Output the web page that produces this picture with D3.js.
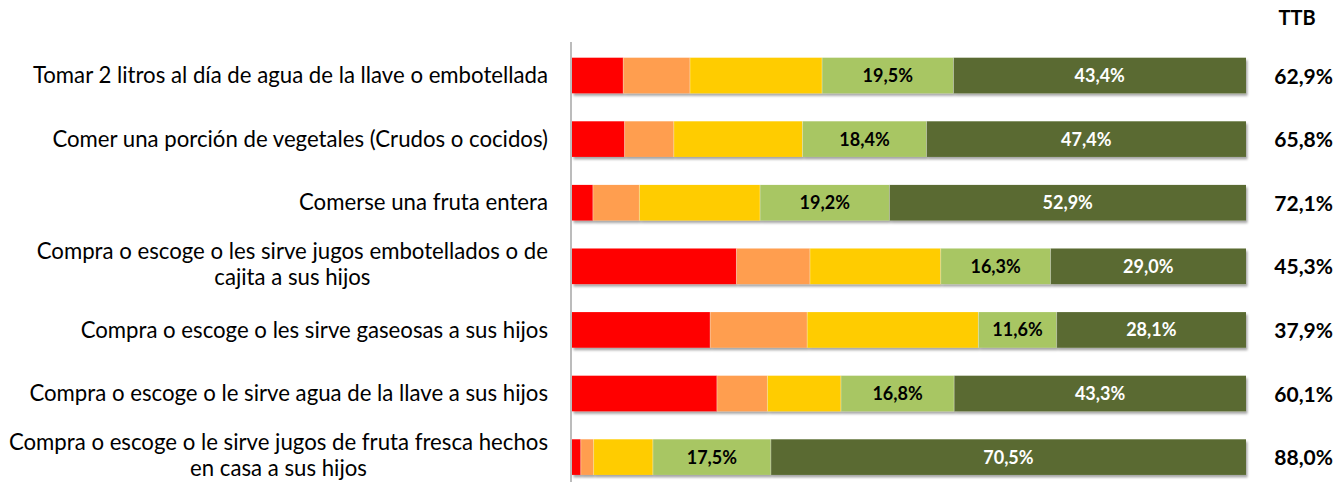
<!DOCTYPE html>
<html>
<head>
<meta charset="utf-8">
<script src="https://cdn.jsdelivr.net/npm/d3@7"></script>
<style>
  body { margin: 0; background: #fff; }
  svg { display: block; font-family: Lato, "Open Sans", sans-serif; }
</style>
</head>
<body>
<script>
// data (share of answers, %)
let categories = [
  "Tomar 2 litros al día de agua de la llave o embotellada",
  "Comer una porción de vegetales (Crudos o cocidos)",
  "Comerse una fruta entera",
  "Compra o escoge o les sirve jugos embotellados o de\ncajita a sus hijos",
  "Compra o escoge o les sirve gaseosas a sus hijos",
  "Compra o escoge o le sirve agua de la llave a sus hijos",
  "Compra o escoge o le sirve jugos de fruta fresca hechos\nen casa a sus hijos"
];
let red = [7.6, 7.8, 3.1, 24.4, 20.5, 21.5, 1.3],
  orange = [9.9, 7.3, 6.9, 10.9, 14.4, 7.5, 1.9],
  yellow = [19.6, 19.1, 17.9, 19.4, 25.4, 10.9, 8.8],
  lightGreen = [19.5, 18.4, 19.2, 16.3, 11.6, 16.8, 17.5],
  darkGreen = [43.4, 47.4, 52.9, 29.0, 28.1, 43.3, 70.5];
let ttb = [62.9, 65.8, 72.1, 45.3, 37.9, 60.1, 88.0];
let ttbTitle = "TTB";

let keys = ["red", "orange", "yellow", "lightGreen", "darkGreen"],
  colors = ["#FF0000", "#FF9E4F", "#FFCC00", "#A8C663", "#5A6B31"],
  labelled = { lightGreen: "#000", darkGreen: "#fff" };

let width = 1336,
  height = 482;

let rows = categories.map((c, i) => ({
  cat: c,
  red: red[i],
  orange: orange[i],
  yellow: yellow[i],
  lightGreen: lightGreen[i],
  darkGreen: darkGreen[i],
  ttb: ttb[i]
}));

let locale = d3.formatLocale({ decimal: ",", thousands: ".", grouping: [3], currency: ["", ""] });
let pct = (v) => locale.format(".1f")(v) + "%";

let x = d3.scaleLinear().domain([0, 100]).range([572, 1246]);
let y = d3
  .scaleBand()
  .domain(categories)
  .range([43.7, 488.9])
  .paddingInner(0.44)
  .paddingOuter(0.22);
let color = d3.scaleOrdinal().domain(keys).range(colors);

let svg = d3
  .select("body")
  .append("svg")
  .attr("width", width)
  .attr("height", height);

// soft shadow under the bars
svg
  .append("defs")
  .append("filter")
  .attr("id", "shadow")
  .attr("x", "-5%")
  .attr("y", "-20%")
  .attr("width", "110%")
  .attr("height", "160%")
  .append("feDropShadow")
  .attr("dx", 1.5)
  .attr("dy", 2.5)
  .attr("stdDeviation", 1.3)
  .attr("flood-color", "#000")
  .attr("flood-opacity", 0.35);

let stacked = d3.stack().keys(keys)(rows);

let bars = svg.append("g").attr("filter", "url(#shadow)");

bars
  .selectAll("g")
  .data(stacked)
  .enter()
  .append("g")
  .attr("fill", (d) => color(d.key))
  .selectAll("rect")
  .data((d) => d)
  .enter()
  .append("rect")
  .attr("x", (d) => x(d[0]))
  .attr("y", (d) => y(d.data.cat))
  .attr("width", (d) => x(d[1]) - x(d[0]))
  .attr("height", y.bandwidth());

// thin light seams between segments
svg
  .append("g")
  .selectAll("line")
  .data(stacked.slice(1).flatMap((s) => s))
  .enter()
  .append("line")
  .attr("x1", (d) => x(d[0]))
  .attr("x2", (d) => x(d[0]))
  .attr("y1", (d) => y(d.data.cat))
  .attr("y2", (d) => y(d.data.cat) + y.bandwidth())
  .attr("stroke", "#fff")
  .attr("stroke-opacity", 0.45)
  .attr("stroke-width", 0.8);

// value labels on the two green segments
let labelledLayers = stacked.filter((s) => labelled[s.key]);
svg
  .append("g")
  .selectAll("g")
  .data(labelledLayers)
  .enter()
  .append("g")
  .attr("fill", (d) => labelled[d.key])
  .selectAll("text")
  .data((d) => d.map((p) => ({ p: p, key: d.key })))
  .enter()
  .append("text")
  .attr("x", (d) => (x(d.p[0]) + x(d.p[1])) / 2)
  .attr("y", (d) => y(d.p.data.cat) + y.bandwidth() / 2)
  .attr("dy", "0.36em")
  .attr("text-anchor", "middle")
  .attr("font-size", "18px")
  .attr("font-weight", "bold")
  .text((d) => pct(d.p.data[d.key]));

// category axis
let axis = svg
  .append("g")
  .attr("transform", "translate(571,0)")
  .call(d3.axisLeft(y).tickSize(0).tickSizeOuter(0).tickPadding(23));

axis
  .select(".domain")
  .attr("stroke", "#A6A6A6")
  .attr("stroke-width", 1.5)
  .attr("d", "M0," + 42 + "V" + height);

axis
  .selectAll(".tick text")
  .attr("font-family", "Lato, sans-serif")
  .attr("font-size", "22.2px")
  .attr("fill", "#000")
  .each(function (d) {
    let lines = d.split("\n"),
      t = d3.select(this).text("").attr("dy", null);
    let lh = 26,
      first = -((lines.length - 1) * lh) / 2 - (lines.length > 1 ? 2 : 0);
    lines.forEach((ln, i) => {
      t.append("tspan")
        .attr("x", -23)
        .attr("y", first + i * lh)
        .attr("dy", "0.35em")
        .attr("text-anchor", i == 1 ? "middle" : "end")
        .text(ln);
    });
  });

// centre the second line of wrapped labels under the first
axis.selectAll(".tick text").each(function () {
  let spans = d3.select(this).selectAll("tspan");
  if (spans.size() > 1) {
    let w = spans.nodes()[0].getComputedTextLength();
    d3.select(spans.nodes()[1]).attr("x", -23 - w / 2);
  }
});

// TTB column
svg
  .append("text")
  .attr("x", 1297)
  .attr("y", 25)
  .attr("text-anchor", "middle")
  .attr("font-size", "20px")
  .attr("font-weight", "bold")
  .text(ttbTitle);

svg
  .append("g")
  .selectAll("text")
  .data(rows)
  .enter()
  .append("text")
  .attr("x", 1333)
  .attr("y", (d) => y(d.cat) + y.bandwidth() / 2 + 8)
  .attr("text-anchor", "end")
  .attr("font-size", "21px")
  .attr("font-weight", "bold")
  .text((d) => pct(d.ttb));
</script>
</body>
</html>
